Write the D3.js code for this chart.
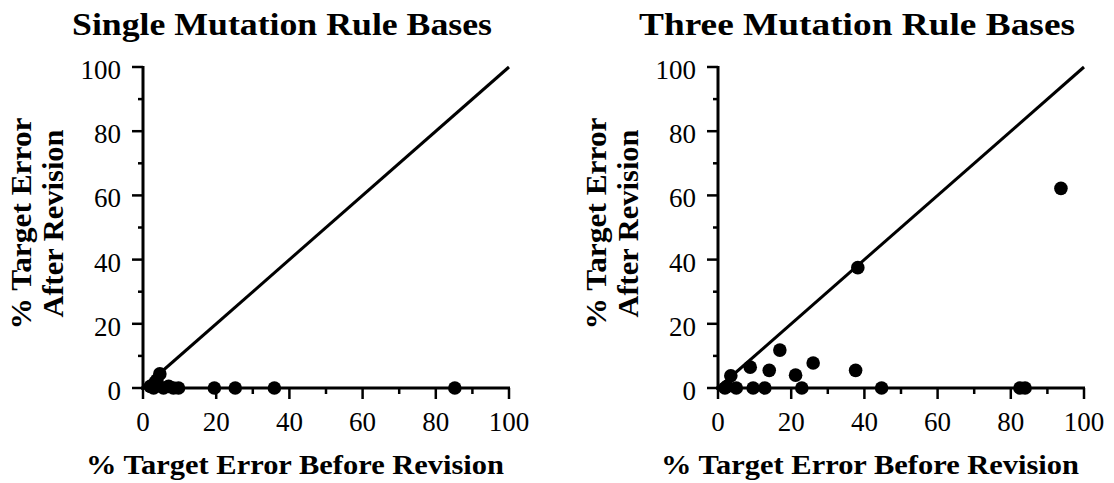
<!DOCTYPE html>
<html>
<head>
<meta charset="utf-8">
<script src="https://cdn.jsdelivr.net/npm/d3@7"></script>
<style>
  body { margin: 0; background: #fff; }
  svg { display: block; }
  text { font-family: "Liberation Serif", "Times New Roman", serif; fill: #000; }
</style>
</head>
<body>
<script>
// values (x = before revision, y = after revision)
const singleBefore = [2, 2.9, 3.3, 3.8, 4.6, 5.6, 7.0, 8.3, 9.7, 19.5, 25.2, 35.9, 85.2];
const singleAfter  = [0.5, 0, 1.8, 2.5, 4.4, 0, 0.5, 0, 0, 0, 0, 0, 0];

const threeBefore = [1.9, 2.5, 3.5, 5.0, 8.8, 9.6, 12.8, 14.0, 16.9, 21.2, 22.9, 26.0, 37.6, 38.2, 44.7, 82.5, 83.9, 93.7];
const threeAfter  = [0, 0.5, 3.8, 0, 6.5, 0, 0, 5.5, 11.8, 4.0, 0, 7.8, 5.5, 37.5, 0, 0, 0, 62.2];

const majorTicks = [0, 20, 40, 60, 80, 100];
const minorTicks = [10, 30, 50, 70, 90];

const titles = ["Single Mutation Rule Bases", "Three Mutation Rule Bases"];
const xTitle = "% Target Error Before Revision";
const yTitle = ["% Target Error", "After Revision"];

const svg = d3.select("body").append("svg")
    .attr("width", 1114)
    .attr("height", 483);

function drawPanel(left, title, titleW, xs, ys) {
    const x = d3.scaleLinear().domain([0, 100]).range([left, left + 366]);
    const y = d3.scaleLinear().domain([0, 100]).range([388, 67]);
    const g = svg.append("g");

    g.append("text")
        .attr("x", left + 139)
        .attr("y", 35)
        .attr("text-anchor", "middle")
        .attr("font-size", 31)
        .attr("font-weight", "bold")
        .attr("textLength", titleW)
        .attr("lengthAdjust", "spacingAndGlyphs")
        .text(title);

    // y axis
    g.append("line")
        .attr("x1", x(0)).attr("x2", x(0))
        .attr("y1", y(0) + 2).attr("y2", y(100) - 1)
        .attr("stroke", "#000").attr("stroke-width", 3);
    g.selectAll(".ymaj").data(majorTicks).enter().append("line")
        .attr("x1", x(0) - 11).attr("x2", x(0))
        .attr("y1", d => y(d)).attr("y2", d => y(d))
        .attr("stroke", "#000").attr("stroke-width", 2.5);
    g.selectAll(".ymin").data(minorTicks).enter().append("line")
        .attr("x1", x(0) - 5).attr("x2", x(0))
        .attr("y1", d => y(d)).attr("y2", d => y(d))
        .attr("stroke", "#000").attr("stroke-width", 2.5);
    g.selectAll(".ylab").data(majorTicks).enter().append("text")
        .attr("x", x(0) - 22)
        .attr("y", d => y(d) + 12)
        .attr("text-anchor", "end")
        .attr("font-size", 27)
        .text(d => d);

    // x axis
    g.append("line")
        .attr("x1", x(0) - 2).attr("x2", x(100) + 1)
        .attr("y1", y(0)).attr("y2", y(0))
        .attr("stroke", "#000").attr("stroke-width", 3);
    g.selectAll(".xmaj").data(majorTicks).enter().append("line")
        .attr("x1", d => x(d)).attr("x2", d => x(d))
        .attr("y1", y(0)).attr("y2", y(0) + 11)
        .attr("stroke", "#000").attr("stroke-width", 2.5);
    g.selectAll(".xmin").data(minorTicks).enter().append("line")
        .attr("x1", d => x(d)).attr("x2", d => x(d))
        .attr("y1", y(0)).attr("y2", y(0) + 6)
        .attr("stroke", "#000").attr("stroke-width", 2.5);
    g.selectAll(".xlab").data(majorTicks).enter().append("text")
        .attr("x", d => x(d))
        .attr("y", 431)
        .attr("text-anchor", "middle")
        .attr("font-size", 27)
        .text(d => d);

    g.append("text")
        .attr("x", x(50) - 31)
        .attr("y", 474)
        .attr("text-anchor", "middle")
        .attr("font-size", 28)
        .attr("font-weight", "bold")
        .attr("textLength", 418)
        .attr("lengthAdjust", "spacingAndGlyphs")
        .text(xTitle);

    const yLen = [212, 188];
    const yOff = [112, 80];
    yTitle.forEach((t, i) => {
        g.append("text")
            .attr("transform", `translate(${left - yOff[i]},${y(50) - 4}) rotate(-90)`)
            .attr("text-anchor", "middle")
            .attr("font-size", 29)
            .attr("font-weight", "bold")
            .attr("textLength", yLen[i])
            .attr("lengthAdjust", "spacingAndGlyphs")
            .text(t);
    });

    // diagonal
    g.append("line")
        .attr("x1", x(0)).attr("y1", y(0))
        .attr("x2", x(100)).attr("y2", y(100))
        .attr("stroke", "#000").attr("stroke-width", 3);

    g.selectAll(".pt").data(xs).enter().append("circle")
        .attr("cx", (d, i) => x(d))
        .attr("cy", (d, i) => y(ys[i]))
        .attr("r", 6.8)
        .attr("fill", "#000");
}

drawPanel(143, titles[0], 420, singleBefore, singleAfter);
drawPanel(718, titles[1], 436, threeBefore, threeAfter);
</script>
</body>
</html>
